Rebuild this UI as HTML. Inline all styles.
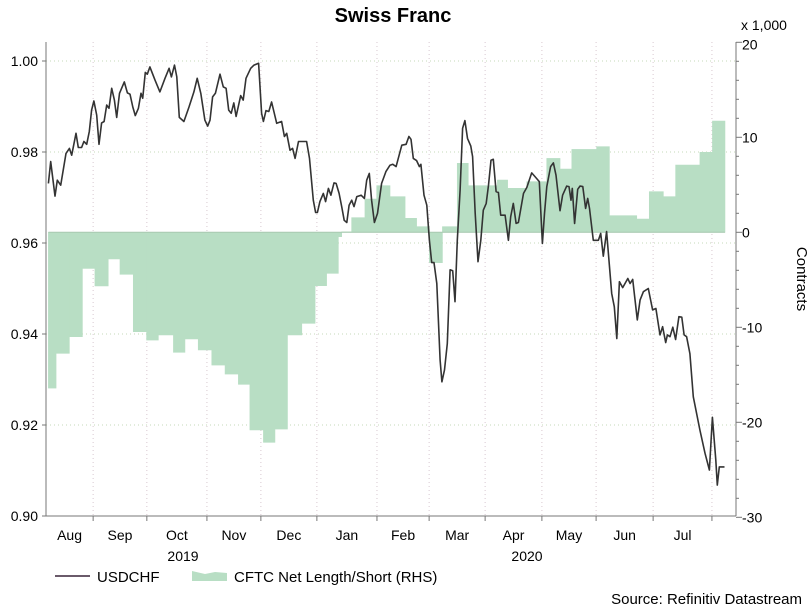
<!DOCTYPE html>
<html><head><meta charset="utf-8"><style>
body{margin:0;background:#fff;}
svg{display:block;font-family:"Liberation Sans",Arial,sans-serif;}
</style></head><body>
<svg id="chart" width="809" height="608" viewBox="0 0 809 608" xmlns="http://www.w3.org/2000/svg">
<text x="393" y="22" text-anchor="middle" font-size="20" font-weight="bold" fill="#000">Swiss Franc</text>
<text x="741" y="30" font-size="14" fill="#000">x 1,000</text>
<text transform="translate(797,279) rotate(90)" text-anchor="middle" font-size="15" fill="#000">Contracts</text>
<g id="grid"></g><g id="bars"></g><g id="line"></g><g id="axes"></g>
<g>
<line x1="55" y1="576" x2="90" y2="576" stroke="#6a5a6a" stroke-width="2"/>
<text x="97" y="582" font-size="15">USDCHF</text>
<path d="M192 581 L192 571 L205 574 L215 572 L227 573 L227 581 Z" fill="#b8dec4"/>
<text x="234" y="582" font-size="15">CFTC Net Length/Short (RHS)</text>
</g>
<text x="802" y="604" text-anchor="end" font-size="15">Source: Refinitiv Datastream</text>
</svg>
<script>
const usdT=[2.5,3.4,5.1,6.0,7.3,9.4,10.7,11.6,13.3,14.2,15.5,16.4,17.5,18.5,19.4,20.3,21.4,22.3,23.3,24.3,25.3,26.2,27.25,28.3,29.2,30.3,32.2,33.4,34.4,35.5,36.5,37.7,38.7,39.4,40.4,41.2,42.2,44.2,46.1,48.1,49.7,50.6,51.8,52.7,53.7,55.5,57.5,59.4,60.7,62.1,63.7,64.8,65.7,66.7,67.8,69.6,70.9,72.0,73.0,74.0,75.0,75.9,77.7,78.7,79.8,81.6,82.9,84.7,85.9,86.6,87.6,88.7,89.8,91.8,93.7,94.8,95.7,97.0,98.0,99.0,100.3,103.5,104.6,106.1,107.0,107.7,108.7,110.0,110.9,112.0,113.0,114.2,115.0,116.2,117.2,118.2,119.2,120.1,121.1,122.0,123.1,124.8,126.1,127.0,128.0,128.9,130.0,131.2,132.8,134.5,136.1,137.2,138.5,140.7,142.4,143.5,144.3,145.2,146.5,147.6,148.2,149.4,150.5,151.5,152.4,153.3,154.4,155.7,156.4,157.4,158.5,159.6,160.6,161.5,162.4,163.5,164.5,165.4,166.4,167.7,168.4,169.4,170.5,171.6,172.6,173.7,174.6,175.6,176.5,177.6,178.5,179.4,181.1,182.4,183.3,184.3,185.4,186.3,188.3,189.6,191.5,192.8,194.5,195.7,196.5,197.4,198.9,200.0,201.0,202.6,203.6,205.2,206.1,206.9,207.4,208.3,209.5,210.4,211.5,212.6,213.4,214.1,215.6,217.6,218.5,219.5,220.8,222.8,223.8,224.8,225.8,227.1,229.1,230.0,231.0,232.8,233.9,235.2,237.1,238.8,240.1,241.7,242.7,243.9,244.6,245.6,246.7,247.8,249.1,250.2,251.1,252.1,253.4,254.7,257.3,259.3,261.0,262.2,263.5,264.1,264.9,266.9];
const usdV=[0.9731,0.9779,0.9703,0.9738,0.9727,0.9797,0.9808,0.9793,0.9841,0.9810,0.9810,0.9823,0.9817,0.9845,0.9892,0.9912,0.9881,0.9817,0.9864,0.9867,0.9903,0.9896,0.9940,0.9914,0.9876,0.9929,0.9954,0.9930,0.9927,0.9899,0.9880,0.9896,0.9929,0.9918,0.9975,0.9971,0.9987,0.9958,0.9932,0.9962,0.9984,0.9965,0.9991,0.9965,0.9876,0.9867,0.9899,0.9932,0.9962,0.9929,0.9870,0.9857,0.9870,0.9921,0.9929,0.9971,0.9943,0.9940,0.9892,0.9885,0.9908,0.9878,0.9924,0.9914,0.9962,0.9984,0.9991,0.9995,0.9885,0.9867,0.9891,0.9889,0.9910,0.9863,0.9867,0.9834,0.9841,0.9804,0.9808,0.9786,0.9823,0.9823,0.9786,0.9694,0.9667,0.9667,0.9691,0.9709,0.9691,0.9720,0.9705,0.9732,0.9731,0.9709,0.9680,0.9650,0.9645,0.9683,0.9694,0.9680,0.9702,0.9705,0.9698,0.9738,0.9753,0.9694,0.9645,0.9665,0.9731,0.9757,0.9771,0.9773,0.9768,0.9815,0.9817,0.9834,0.9828,0.9786,0.9781,0.9768,0.9773,0.9705,0.9683,0.9606,0.9557,0.9557,0.9511,0.9343,0.9295,0.9321,0.9379,0.9541,0.9539,0.9471,0.9606,0.9716,0.9852,0.9869,0.9830,0.9813,0.9790,0.9665,0.9559,0.9606,0.9672,0.9687,0.9727,0.9782,0.9784,0.9713,0.9711,0.9661,0.9661,0.9606,0.9658,0.9687,0.9643,0.9645,0.9709,0.9722,0.9754,0.9746,0.9735,0.9599,0.9665,0.9724,0.9768,0.9776,0.9749,0.9671,0.9705,0.9725,0.9724,0.9694,0.9720,0.9643,0.9718,0.9725,0.9724,0.9676,0.9698,0.9676,0.9606,0.9606,0.9621,0.9571,0.9625,0.9489,0.9460,0.9390,0.9515,0.9502,0.9522,0.9511,0.9520,0.9431,0.9475,0.9493,0.9500,0.9453,0.9456,0.9398,0.9416,0.9381,0.9398,0.9394,0.9415,0.9388,0.9438,0.9437,0.9398,0.9394,0.9357,0.9262,0.9189,0.9138,0.9101,0.9217,0.9123,0.9068,0.9108,0.9108];
const cftcStart=[2.5,5.5,10.7,15.8,20.7,25.9,30.5,35.7,40.9,45.5,51.4,55.9,61.1,66.4,71.6,76.8,81.3,86.6,91.1,96.0,101.6,106.8,111.3,115.9,117.2,121.1,126.3,130.9,136.1,142.0,146.5,151.5,156.6,162.4,166.7,178.1,182.1,189.6,197.4,202.6,207.2,216.9,221.9,232.6,237.5,243.0,247.8,257.3,262.2];
const cftcVal=[-16.4,-12.74,-10.99,-3.8,-5.65,-2.81,-4.43,-10.46,-11.34,-10.81,-12.64,-11.23,-12.39,-13.97,-14.92,-16.0,-20.81,-22.11,-20.71,-10.81,-9.58,-5.62,-4.32,-0.46,0.05,1.54,3.5,4.91,3.75,1.47,0.59,-3.2,0.59,7.26,4.91,5.5,4.63,5.33,7.78,6.66,8.73,9.01,1.75,1.4,4.28,3.75,7.08,8.42,11.71];
const cftcEnd=267.1;
const monthLabels=["Aug","Sep","Oct","Nov","Dec","Jan","Feb","Mar","Apr","May","Jun","Jul"];
const monthStarts=[0,20,41,64.5,85.6,107.5,131,151.4,173.3,195.5,216.7,239,262];
const leftTicks=[0.90,0.92,0.94,0.96,0.98,1.00];
const rightTicks=[-30,-20,-10,0,10,20];

const X0=46,X1=736,YT=42,YB=516;
const xS=t=>42+t*2.557;
const yL=v=>61+(1.0-v)/0.02*91;
const yR=v=>232.3-v*9.5;
const NS="http://www.w3.org/2000/svg";
function mk(tag,attrs,parent){const e=document.createElementNS(NS,tag);for(const k in attrs)e.setAttribute(k,attrs[k]);parent.appendChild(e);return e;}
const grid=document.getElementById('grid'),bars=document.getElementById('bars'),line=document.getElementById('line'),axes=document.getElementById('axes');

leftTicks.forEach(v=>{if(v>0.905){const g=mk('line',{x1:X0,x2:X1,y1:yL(v),y2:yL(v),stroke:'#c6d8b8','stroke-dasharray':'1 3'},grid);

}});
monthStarts.forEach((m,i)=>{if(i>0){const g=mk('line',{x1:xS(m),x2:xS(m),y1:YT,y2:YB,stroke:'#d8c8d0','stroke-dasharray':'1 3'},grid);

}});

let d='';
cftcStart.forEach((s,i)=>{const e=i<cftcStart.length-1?cftcStart[i+1]:cftcEnd;const v=cftcVal[i];const y0=yR(0),y1=yR(v);
d+=`M${xS(s)} ${y0}L${xS(s)} ${y1}L${xS(e)} ${y1}L${xS(e)} ${y0}Z`;});
const area=mk('path',{d:d,fill:'#b8dec4',stroke:'#b8dec4','stroke-width':0.6},bars);


const zl=mk('line',{x1:xS(cftcStart[0]),x2:xS(cftcEnd),y1:yR(0),y2:yR(0),stroke:'#a8c8b0','stroke-width':1},bars);



const pts=usdT.map((t,i)=>xS(t).toFixed(1)+','+yL(usdV[i]).toFixed(1)).join(' ');
const pl=mk('polyline',{points:pts,fill:'none',stroke:'#333','stroke-width':1.6,'stroke-linejoin':'round'},line);



const la=mk('line',{x1:X0,x2:X0,y1:YT,y2:YB,stroke:'#777'},axes);


const ra=mk('line',{x1:X1,x2:X1,y1:YT,y2:YB,stroke:'#777'},axes);


const ba=mk('line',{x1:X0,x2:X1,y1:YB,y2:YB,stroke:'#777'},axes);


leftTicks.forEach(v=>{mk('line',{x1:X0-4,x2:X0,y1:yL(v),y2:yL(v),stroke:'#777'},axes);
const t=mk('text',{x:X0-8,y:yL(v)+5,'text-anchor':'end','font-size':14},axes);t.textContent=v.toFixed(2);

});
for(let v=-30;v<=20;v+=2){mk('line',{x1:X1,x2:X1+(v%10===0?6:3),y1:yR(v),y2:yR(v),stroke:'#777'},axes);}
rightTicks.forEach(v=>{const t=mk('text',{x:X1+6,y:yR(v)+(v===20?7:5),'font-size':14},axes);t.textContent=String(v);

});
monthStarts.forEach((m,i)=>{if(i>0)mk('line',{x1:xS(m),x2:xS(m),y1:YB,y2:YB+5,stroke:'#777'},axes);
if(i<monthLabels.length){const a=i===0?X0:xS(m);const t=mk('text',{x:(a+xS(monthStarts[i+1]))/2,y:540,'text-anchor':'middle','font-size':14},axes);t.textContent=monthLabels[i];

}});
[[183,'2019'],[527,'2020']].forEach(([x,s])=>{const t=mk('text',{x:x,y:561,'text-anchor':'middle','font-size':14},axes);t.textContent=s;

});
</script>
</body></html>
